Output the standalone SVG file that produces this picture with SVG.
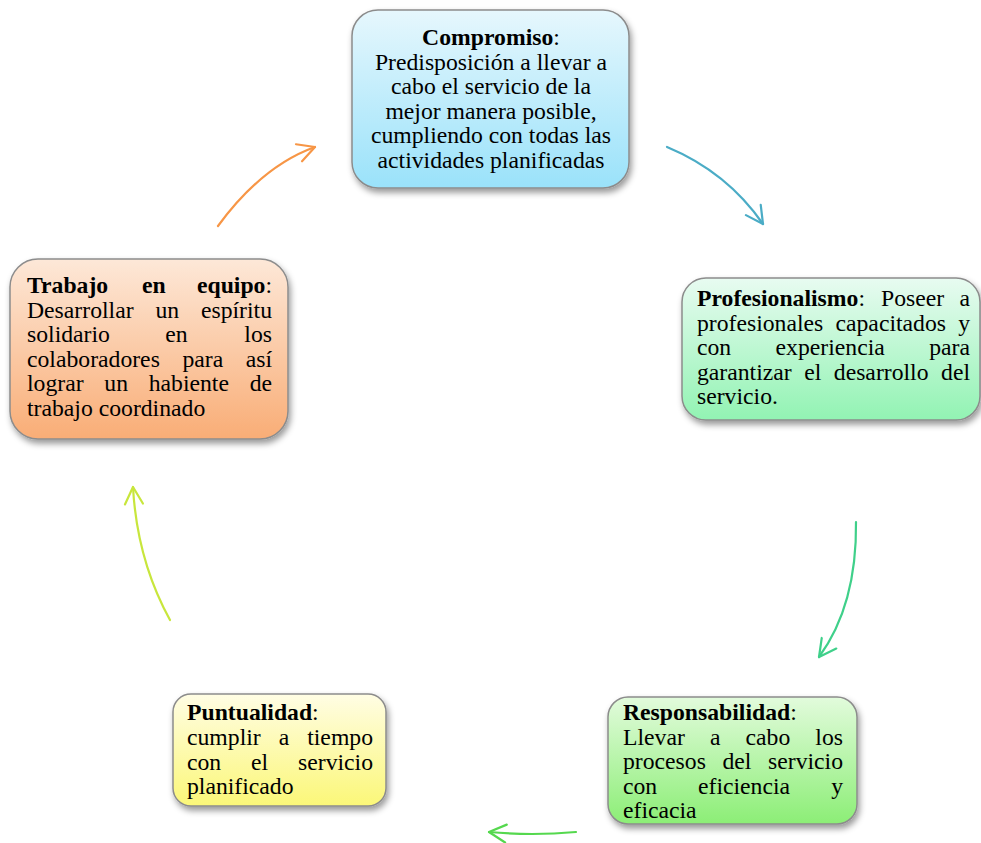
<svg xmlns="http://www.w3.org/2000/svg" width="981" height="843" viewBox="0 0 981 843">
<style>
.box{stroke:#8c8c8c;stroke-width:1.5;filter:url(#sh)}
.t{font-family:"Liberation Serif","Times New Roman",serif;font-size:23.7px;fill:#000}
.b{font-weight:bold}
.e{text-anchor:end}
.c{text-anchor:middle}
.arr{fill:none;stroke-width:2.2;stroke-linecap:round}
</style>
<defs>
<filter id="sh" x="-10%" y="-10%" width="125%" height="130%">
<feDropShadow dx="2" dy="4" stdDeviation="3" flood-color="#000" flood-opacity="0.4"/>
</filter>
<linearGradient id="gBlue" x1="0" y1="0" x2="0" y2="1"><stop offset="0" stop-color="#e6f7fd"/><stop offset="1" stop-color="#9ae2fa"/></linearGradient>
<linearGradient id="gMint" x1="0" y1="0" x2="0" y2="1"><stop offset="0" stop-color="#e8fbf1"/><stop offset="1" stop-color="#92f3b3"/></linearGradient>
<linearGradient id="gOrange" x1="0" y1="0" x2="0" y2="1"><stop offset="0" stop-color="#fde8d8"/><stop offset="1" stop-color="#f9ad76"/></linearGradient>
<linearGradient id="gYellow" x1="0" y1="0" x2="0" y2="1"><stop offset="0" stop-color="#fffde4"/><stop offset="1" stop-color="#fbf778"/></linearGradient>
<linearGradient id="gGreen" x1="0" y1="0" x2="0" y2="1"><stop offset="0" stop-color="#e2fbdc"/><stop offset="1" stop-color="#8cee76"/></linearGradient>
<marker id="mOrange" markerUnits="userSpaceOnUse" markerWidth="40" markerHeight="40" viewBox="-20 -20 40 40" refX="0" refY="0" orient="auto" overflow="visible"><path d="M-17,-9 L0,0 L-17,9" fill="none" stroke="#f79646" stroke-width="2.2" stroke-linecap="round" stroke-linejoin="round"/></marker>
<marker id="mTeal" markerUnits="userSpaceOnUse" markerWidth="40" markerHeight="40" viewBox="-20 -20 40 40" refX="0" refY="0" orient="auto" overflow="visible"><path d="M-17,-9 L0,0 L-17,9" fill="none" stroke="#4bacc6" stroke-width="2.2" stroke-linecap="round" stroke-linejoin="round"/></marker>
<marker id="mSea" markerUnits="userSpaceOnUse" markerWidth="40" markerHeight="40" viewBox="-20 -20 40 40" refX="0" refY="0" orient="auto" overflow="visible"><path d="M-17,-9 L0,0 L-17,9" fill="none" stroke="#3fd08a" stroke-width="2.2" stroke-linecap="round" stroke-linejoin="round"/></marker>
<marker id="mGreen" markerUnits="userSpaceOnUse" markerWidth="40" markerHeight="40" viewBox="-20 -20 40 40" refX="0" refY="0" orient="auto" overflow="visible"><path d="M-17,-9 L0,0 L-17,9" fill="none" stroke="#55d84e" stroke-width="2.2" stroke-linecap="round" stroke-linejoin="round"/></marker>
<marker id="mLime" markerUnits="userSpaceOnUse" markerWidth="40" markerHeight="40" viewBox="-20 -20 40 40" refX="0" refY="0" orient="auto" overflow="visible"><path d="M-17,-9 L0,0 L-17,9" fill="none" stroke="#c8e63c" stroke-width="2.2" stroke-linecap="round" stroke-linejoin="round"/></marker>
</defs>
<rect width="981" height="843" fill="#fff"/>

<g id="connectors">
<path class="arr" stroke="#f79646" marker-end="url(#mOrange)" d="M218,226 Q262,166 315,147"/>
<path class="arr" stroke="#4bacc6" marker-end="url(#mTeal)" d="M667,147 Q727,172 763,224"/>
<path class="arr" stroke="#3fd08a" marker-end="url(#mSea)" d="M856,522 Q857,605 819,657"/>
<path class="arr" stroke="#55d84e" marker-end="url(#mGreen)" d="M576,832 Q532,836 489,832"/>
<path class="arr" stroke="#c8e63c" marker-end="url(#mLime)" d="M170,620 Q137,560 133,487"/>
</g>

<g id="compromiso">
<rect class="box" x="352" y="10" width="277" height="178" rx="26" fill="url(#gBlue)"/>
<text class="t c" x="491" y="45"><tspan class="b">Compromiso</tspan>:</text>
<text class="t c" x="491" y="69.5">Predisposición a llevar a</text>
<text class="t c" x="491" y="94">cabo el servicio de la</text>
<text class="t c" x="491" y="118.5">mejor manera posible,</text>
<text class="t c" x="491" y="143">cumpliendo con todas las</text>
<text class="t c" x="491" y="167.5">actividades planificadas</text>
</g>

<g id="profesionalismo">
<rect class="box" x="682" y="278" width="298" height="142" rx="24" fill="url(#gMint)"/>
<text class="t" y="306"><tspan x="697" class="b">Profesionalismo</tspan><tspan>:</tspan><tspan x="881">Poseer</tspan><tspan x="970" class="e">a</tspan></text>
<text class="t" y="330.5"><tspan x="697">profesionales</tspan><tspan x="835.5">capacitados</tspan><tspan x="970" class="e">y</tspan></text>
<text class="t" y="355"><tspan x="697">con</tspan><tspan x="775.6">experiencia</tspan><tspan x="970" class="e">para</tspan></text>
<text class="t" y="379.5"><tspan x="697">garantizar</tspan><tspan x="804.2">el</tspan><tspan x="833.8">desarrollo</tspan><tspan x="970" class="e">del</tspan></text>
<text class="t" x="697" y="404">servicio.</text>
</g>

<g id="responsabilidad">
<rect class="box" x="608" y="697" width="249" height="127" rx="20" fill="url(#gGreen)"/>
<text class="t" x="623" y="720"><tspan class="b">Responsabilidad</tspan>:</text>
<text class="t" y="744.5"><tspan x="623">Llevar</tspan><tspan x="710">a</tspan><tspan x="745.6">cabo</tspan><tspan x="843" class="e">los</tspan></text>
<text class="t" y="769"><tspan x="623">procesos</tspan><tspan x="722.5">del</tspan><tspan x="843" class="e">servicio</tspan></text>
<text class="t" y="793.5"><tspan x="623">con</tspan><tspan x="698">eficiencia</tspan><tspan x="843" class="e">y</tspan></text>
<text class="t" x="623" y="818">eficacia</text>
</g>

<g id="puntualidad">
<rect class="box" x="173" y="694" width="213" height="112" rx="18" fill="url(#gYellow)"/>
<text class="t" x="187" y="720"><tspan class="b">Puntualidad</tspan>:</text>
<text class="t" y="745"><tspan x="187">cumplir</tspan><tspan x="278.7">a</tspan><tspan x="373" class="e">tiempo</tspan></text>
<text class="t" y="769.5"><tspan x="187">con</tspan><tspan x="251">el</tspan><tspan x="373" class="e">servicio</tspan></text>
<text class="t" x="187" y="794">planificado</text>
</g>

<g id="trabajo">
<rect class="box" x="10" y="259" width="278" height="180" rx="28" fill="url(#gOrange)"/>
<text class="t" y="293"><tspan x="27" class="b">Trabajo</tspan><tspan x="142" class="b">en</tspan><tspan x="272" class="e"><tspan class="b">equipo</tspan>:</tspan></text>
<text class="t" y="317.5"><tspan x="27">Desarrollar</tspan><tspan x="155.4">un</tspan><tspan x="272" class="e">espíritu</tspan></text>
<text class="t" y="342"><tspan x="27">solidario</tspan><tspan x="165.3">en</tspan><tspan x="272" class="e">los</tspan></text>
<text class="t" y="366.5"><tspan x="27">colaboradores</tspan><tspan x="182.4">para</tspan><tspan x="272" class="e">así</tspan></text>
<text class="t" y="391"><tspan x="27">lograr</tspan><tspan x="104.3">un</tspan><tspan x="148.7">habiente</tspan><tspan x="272" class="e">de</tspan></text>
<text class="t" x="27" y="415.5">trabajo coordinado</text>
</g>
</svg>
